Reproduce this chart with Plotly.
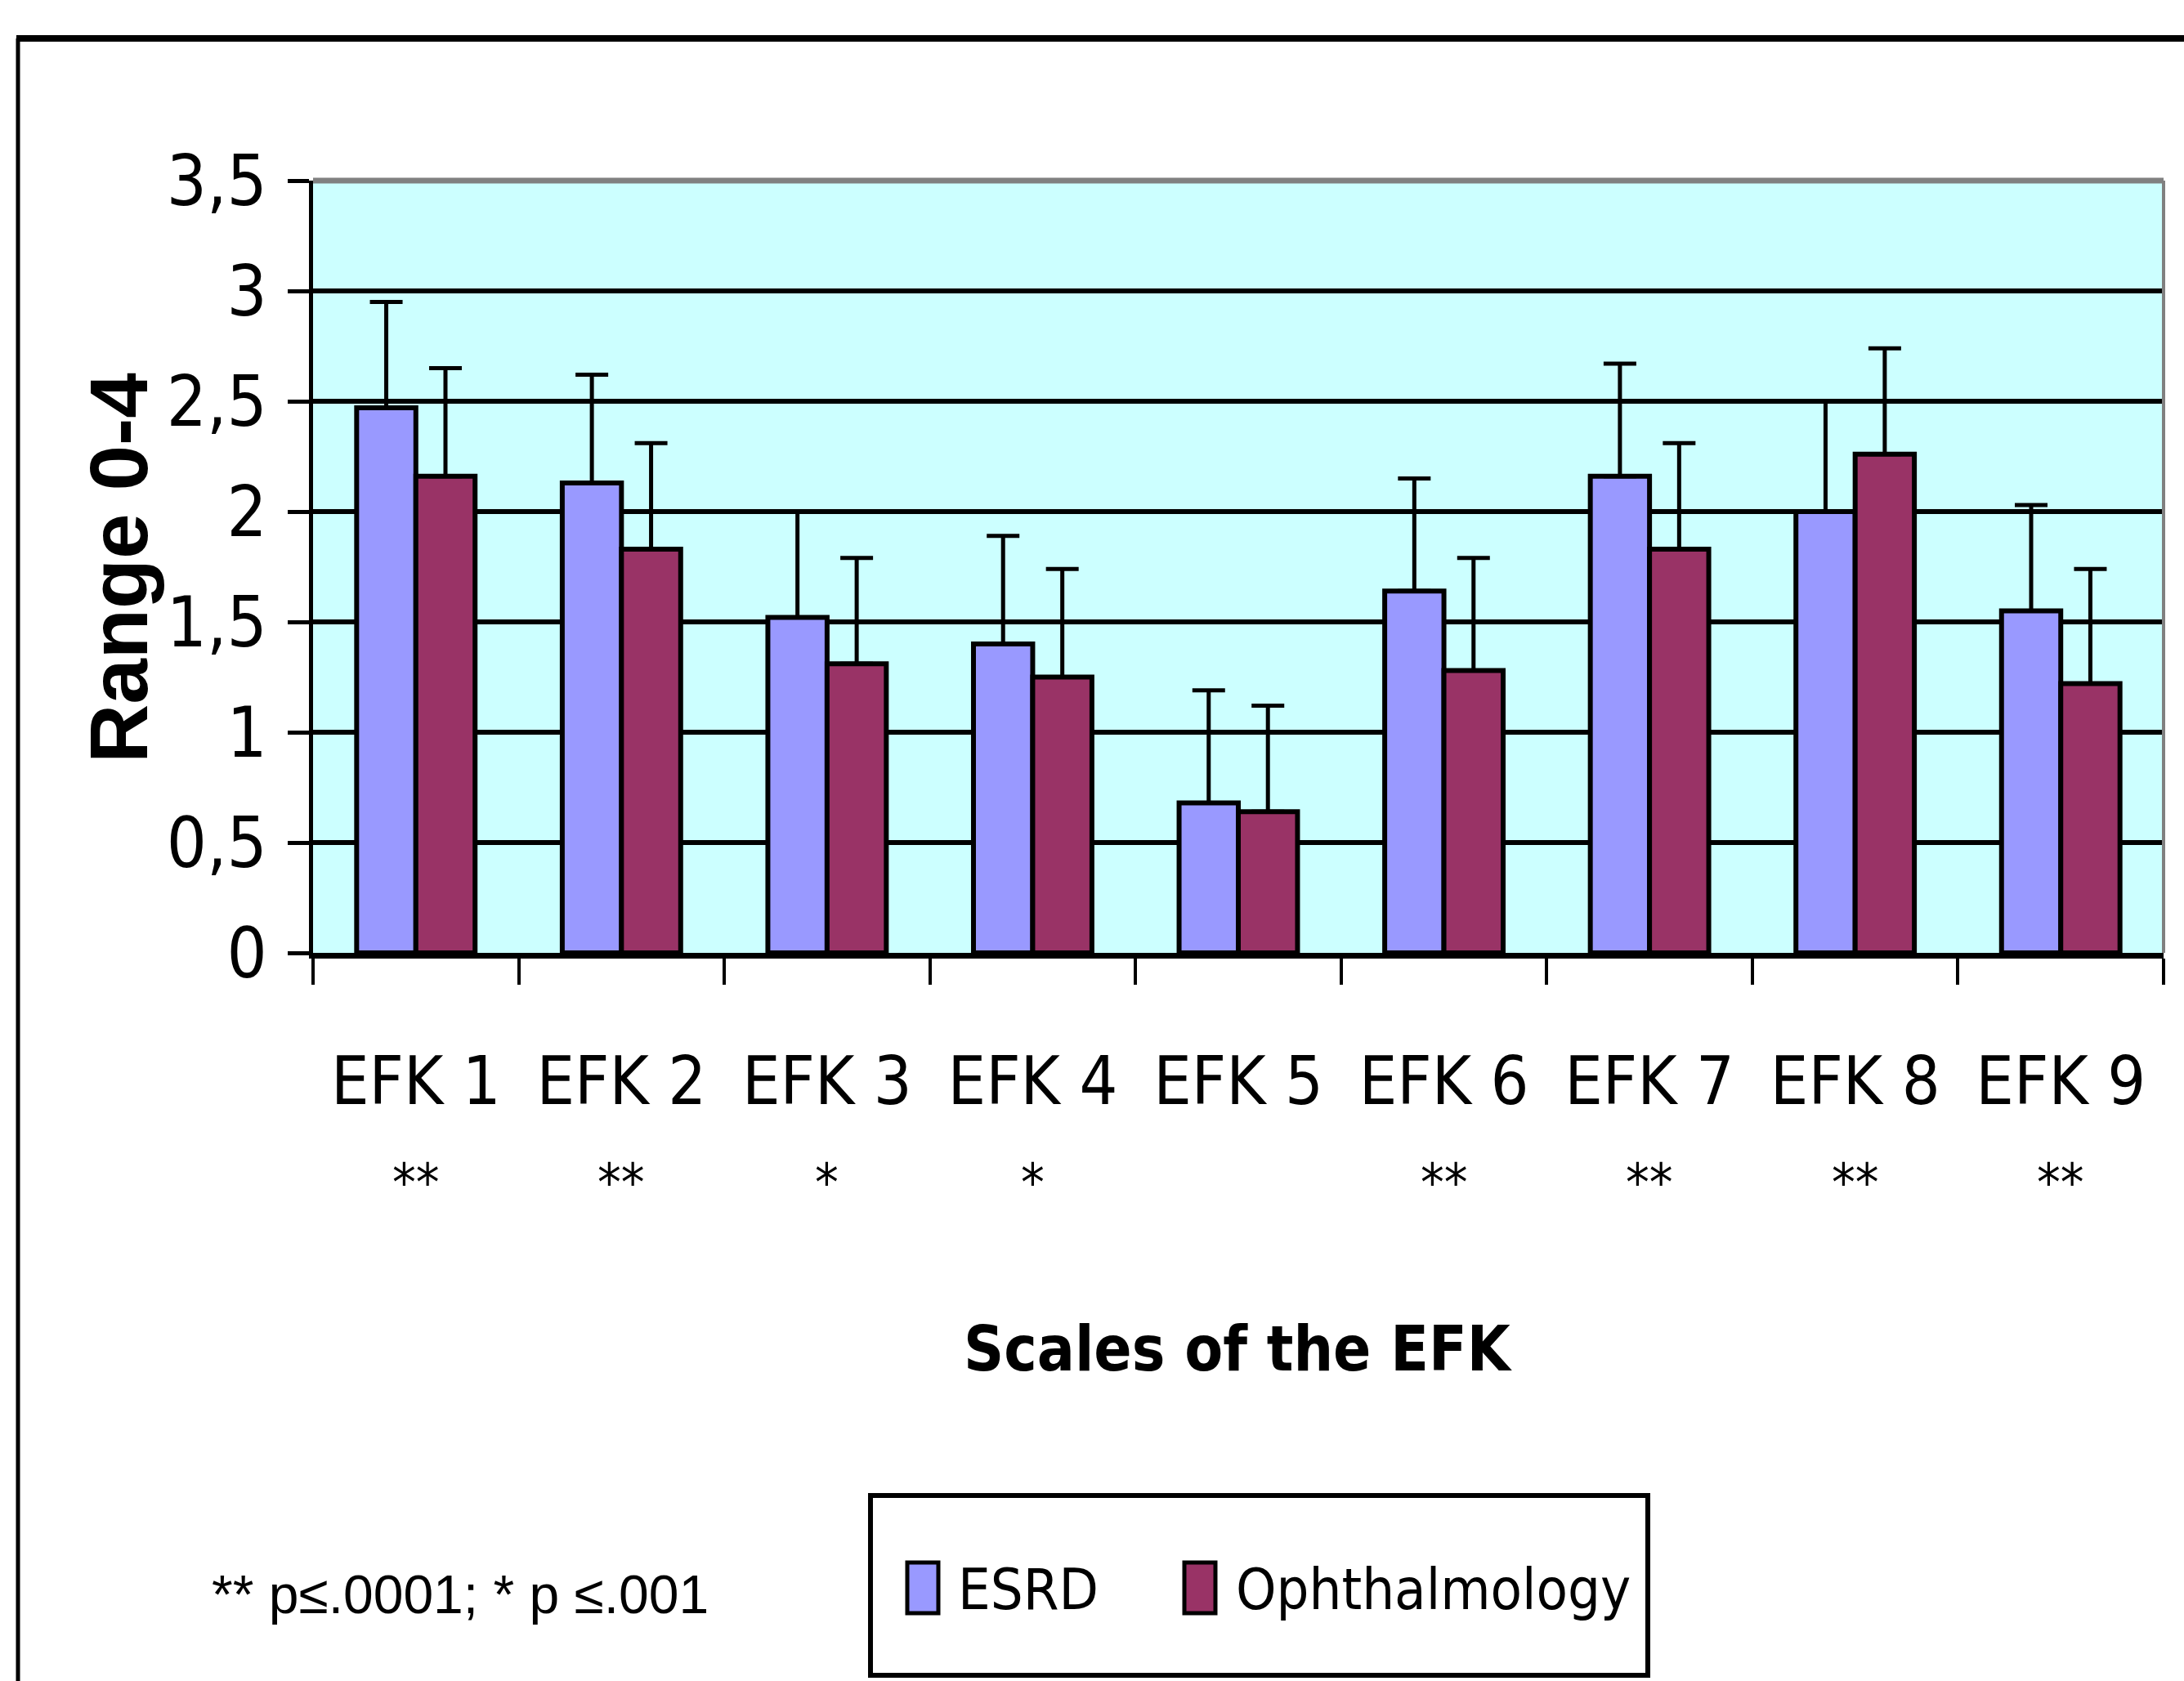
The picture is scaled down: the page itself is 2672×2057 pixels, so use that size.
import plotly.graph_objects as go

# ---------------- data ----------------
categories = ["EFK 1", "EFK 2", "EFK 3", "EFK 4", "EFK 5", "EFK 6", "EFK 7", "EFK 8", "EFK 9"]
significance = ["**", "**", "*", "*", "", "**", "**", "**", "**"]
series_names = ["ESRD", "Ophthalmology"]
esrd_mean = [2.47, 2.13, 1.52, 1.40, 0.68, 1.64, 2.16, 2.00, 1.55]
esrd_sd = [0.48, 0.49, 0.48, 0.49, 0.51, 0.51, 0.51, 0.50, 0.48]
ophth_mean = [2.16, 1.83, 1.31, 1.25, 0.64, 1.28, 1.83, 2.26, 1.22]
ophth_sd = [0.49, 0.48, 0.48, 0.49, 0.48, 0.51, 0.48, 0.48, 0.52]
y_tickvals = [0, 0.5, 1, 1.5, 2, 2.5, 3, 3.5]
y_ticktext = ["0", "0,5", "1", "1,5", "2", "2,5", "3", "3,5"]
y_title = "Range 0-4"
x_title = "Scales of the EFK"
note_text = "** p≤.0001; * p ≤.001"

# ---------------- layout geometry ----------------
W, H = 2672, 2057
L, R, T, B = 383, 25, 221, 891
PW, PH = W - L - R, H - T - B


def px(x):
    return (x - L) / PW


def py(y):
    return (T + PH - y) / PH


NARROW = "Liberation Sans Narrow, Arial Narrow, DejaVu Sans Condensed, sans-serif"
NORMAL = "Liberation Sans, Arial, sans-serif"
colors = ["#9999FF", "#993366"]

fig = go.Figure()
for name, mean, sd, col in zip(series_names, [esrd_mean, ophth_mean], [esrd_sd, ophth_sd], colors):
    fig.add_trace(go.Bar(
        x=categories, y=mean, name=name,
        marker=dict(color=col, line=dict(color="black", width=6)),
        error_y=dict(type="data", symmetric=False, array=sd, arrayminus=[0] * len(sd),
                     color="black", thickness=5, width=20),
        showlegend=False,
    ))

shapes = []
# outer frame
shapes.append(dict(type="line", xref="paper", yref="paper", x0=px(22), x1=px(22), y0=py(47), y1=py(2100),
                   line=dict(color="black", width=5)))
shapes.append(dict(type="line", xref="paper", yref="paper", x0=px(20), x1=px(2700), y0=py(47), y1=py(47),
                   line=dict(color="black", width=8)))
# gray top/right border of plot area
shapes.append(dict(type="line", xref="paper", yref="paper", x0=0, x1=1, y0=1, y1=1,
                   line=dict(color="#808080", width=7)))
shapes.append(dict(type="line", xref="paper", yref="paper", x0=1, x1=1, y0=0, y1=1,
                   line=dict(color="#808080", width=4)))

# manual legend
shapes.append(dict(type="rect", xref="paper", yref="paper", x0=px(1065), x1=px(2016), y0=py(2050), y1=py(1830),
                   line=dict(color="black", width=6), fillcolor="white"))
legend_swatch_x = [(1110, 1148), (1449, 1487)]
legend_text_x = [1170, 1510]
annotations = []
for (sx0, sx1), tx, name, col in zip(legend_swatch_x, legend_text_x, series_names, colors):
    shapes.append(dict(type="rect", xref="paper", yref="paper", x0=px(sx0), x1=px(sx1), y0=py(1974), y1=py(1912),
                       line=dict(color="black", width=5), fillcolor=col))
    annotations.append(dict(xref="paper", yref="paper", x=px(tx), y=py(1945), xanchor="left", yanchor="middle",
                            text=name, showarrow=False, font=dict(family=NARROW, size=70, color="black")))

# significance stars
for cat, s in zip(categories, significance):
    if s:
        annotations.append(dict(xref="x", yref="paper", x=cat, y=py(1408), xanchor="center", yanchor="top",
                                text=s, showarrow=False, font=dict(family=NARROW, size=64, color="black")))

# note
annotations.append(dict(xref="paper", yref="paper", x=px(257), y=py(1951), xanchor="left", yanchor="middle",
                        text=note_text, showarrow=False, font=dict(family=NORMAL, size=66, color="black")))
# y title
annotations.append(dict(xref="paper", yref="paper", x=px(145), y=py(695), xanchor="center", yanchor="middle",
                        text="<b>" + y_title + "</b>", textangle=-90, showarrow=False,
                        font=dict(family=NORMAL, size=100, color="black")))
# x title
annotations.append(dict(xref="paper", yref="paper", x=px(1515), y=py(1650), xanchor="center", yanchor="middle",
                        text="<b>" + x_title + "</b>", showarrow=False,
                        font=dict(family=NARROW, size=76, color="black")))

fig.update_layout(
    width=W, height=H,
    margin=dict(l=L, r=R, t=T, b=B, autoexpand=False),
    paper_bgcolor="white", plot_bgcolor="#CCFFFF",
    barmode="group", bargap=0.424, bargroupgap=0,
    shapes=shapes, annotations=annotations,
    showlegend=False,
)
fig.update_xaxes(
    showline=True, linecolor="black", linewidth=7,
    ticks="outside", tickson="boundaries", ticklen=32, tickwidth=4, tickcolor="black",
    tickfont=dict(family=NARROW, size=82, color="black"), ticklabelstandoff=80,
    showgrid=False, automargin=False,
)
fig.update_yaxes(
    range=[0, 3.5], tickvals=y_tickvals, ticktext=y_ticktext,
    showline=True, linecolor="black", linewidth=5,
    ticks="outside", ticklen=26, tickwidth=5, tickcolor="black",
    tickfont=dict(family=NARROW, size=86, color="black"), ticklabelstandoff=8,
    showgrid=True, gridcolor="black", gridwidth=6, zeroline=False, automargin=False,
)

fig.write_html("out.html", config={"displayModeBar": False},
               post_script="document.body.style.margin='0';document.body.style.overflow='hidden';")
